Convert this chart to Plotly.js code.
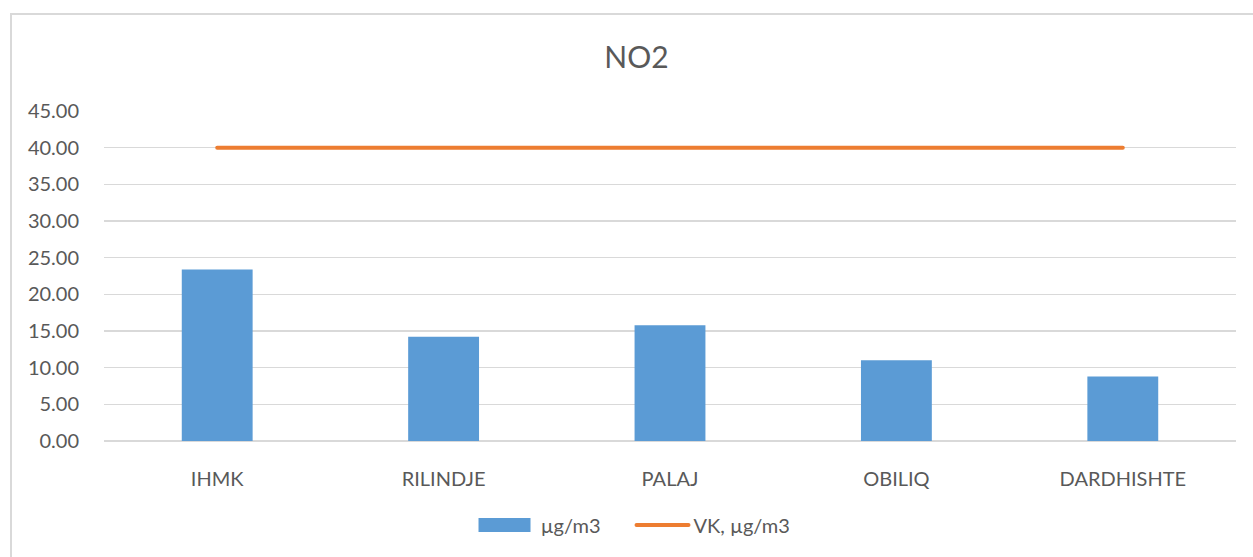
<!DOCTYPE html>
<html>
<head>
<meta charset="utf-8">
<script src="https://cdn.plot.ly/plotly-3.0.1.min.js"></script>
<style>
  html, body { margin: 0; padding: 0; background: #fff; overflow: hidden; }
  #frame { position: absolute; left: 10px; top: 13px; width: 1300px; height: 600px;
           border-left: 2px solid #d9d9d9; border-top: 2px solid #d9d9d9; pointer-events: none; z-index: 5; }
  #chart { position: absolute; left: 0; top: 0; width: 1253px; height: 557px; }
  .scatterlayer path.js-line { stroke-linecap: round; }
  .legend g.traces:first-of-type path.js-line { stroke-width: 14px !important; stroke-linecap: butt; }
  .legend g.traces:last-of-type path.js-line { stroke-linecap: round; }
</style>
</head>
<body>
<div id="chart"></div>
<div id="frame"></div>
<script>
const categories = ['IHMK', 'RILINDJE', 'PALAJ', 'OBILIQ', 'DARDHISHTE'];
const measured = [23.4, 14.2, 15.8, 11.0, 8.8];
const limitValues = [40, 40, 40, 40, 40];
const seriesNames = ['µg/m3', 'VK, µg/m3'];
const yTicks = [0, 5, 10, 15, 20, 25, 30, 35, 40, 45];

const fontFam = 'Lato, "Open Sans", sans-serif';
const grey = '#595959';
const blue = '#5B9BD5';
const orange = '#ED7D31';

const traces = [
  {
    type: 'bar', x: categories, y: measured, name: seriesNames[0],
    marker: { color: blue }, showlegend: false
  },
  {
    // legend entry for the bars, drawn as a wide filled block like the original
    type: 'scatter', mode: 'lines', x: [null], y: [null], name: ' ' + seriesNames[0],
    line: { color: blue, width: 10 }, hoverinfo: 'skip'
  },
  {
    type: 'scatter', mode: 'lines', x: categories, y: limitValues, name: seriesNames[1],
    line: { color: orange, width: 4 }
  }
];

const layout = {
  width: 1253, height: 557,
  margin: { l: 104, r: 17, t: 111, b: 116 },
  paper_bgcolor: '#fff', plot_bgcolor: '#fff',
  font: { family: fontFam, color: grey, size: 20 },
  title: { text: 'NO2', font: { family: fontFam, size: 30, color: grey },
           xref: 'container', x: 0.508, xanchor: 'center', yref: 'container', y: 0.896, yanchor: 'middle' },
  bargap: 0.687,
  xaxis: {
    type: 'category', showgrid: false, zeroline: false, showline: false,
    ticks: 'outside', ticklen: 20, tickcolor: 'rgba(0,0,0,0)',
    tickfont: { family: fontFam, size: 20, color: grey }
  },
  yaxis: {
    range: [0, 45], tickvals: yTicks, ticktext: yTicks.map(v => v.toFixed(2)),
    showgrid: true, gridcolor: '#d9d9d9', gridwidth: 1.5,
    zeroline: true, zerolinecolor: '#d9d9d9', zerolinewidth: 1.5,
    showline: false, ticks: 'outside', ticklen: 20, tickcolor: 'rgba(0,0,0,0)',
    tickfont: { family: fontFam, size: 20, color: grey }
  },
  showlegend: true,
  legend: { orientation: 'h', x: 0.504, xanchor: 'center', xref: 'container',
            y: 1 - 525/557, yref: 'container', yanchor: 'middle',
            font: { family: fontFam, size: 20, color: grey }, itemwidth: 52,
            entrywidth: 91, entrywidthmode: 'pixels' }
};

Plotly.newPlot('chart', traces, layout, { displayModeBar: false, staticPlot: true });
</script>
</body>
</html>
